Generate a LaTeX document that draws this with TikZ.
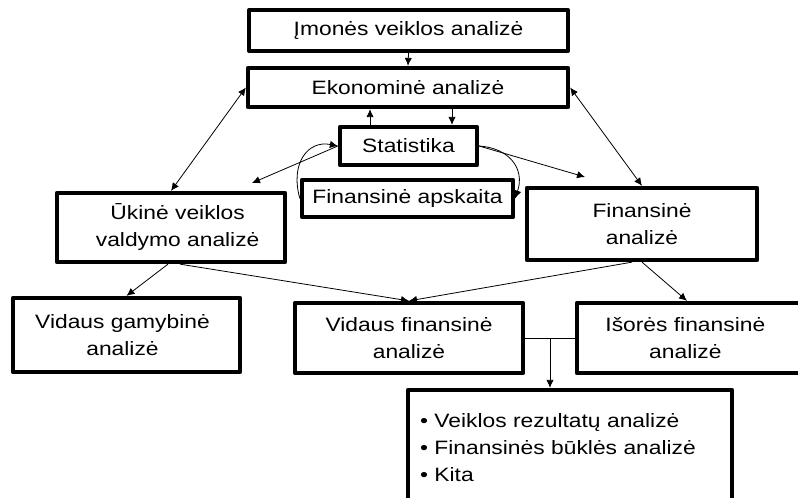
\documentclass[tikz,border=0pt]{standalone}
\usepackage{fontspec}
\setmainfont{Liberation Sans}[FakeStretch=1.18]
\usetikzlibrary{arrows.meta,calc}
\tikzset{
  box/.style={draw, line width=3.2pt, line join=round, font=\fontsize{14.5}{20.25}\selectfont, align=center, inner sep=0.75pt},
  conn/.style={line width=0.6pt, -{Latex[length=6pt,width=5.5pt]}},
  biconn/.style={line width=0.6pt, {Latex[length=6pt,width=5.5pt]}-{Latex[length=6pt,width=5.5pt]}},
}
\begin{document}
\begin{tikzpicture}[x=0.75pt,y=0.75pt,yscale=-1,xscale=1]
\useasboundingbox (0,0) rectangle (798,497);

% Boxes
\node[box, minimum width=239pt, minimum height=30.75pt] (imon) at (408.5,30.5) {Įmonės veiklos analizė};
\node[box, minimum width=240pt, minimum height=29.25pt] (ekon) at (408,87.5) {Ekonominė analizė};
\node[box, minimum width=102.75pt, minimum height=28.5pt] (stat) at (408.5,146) {Statistika};
\node[box, minimum width=158.25pt, minimum height=27.75pt] (apsk) at (407.5,198.5) {Finansinė apskaita};
\node[box, minimum width=171pt, minimum height=51.75pt] (ukin) at (171,227.5) {\hspace*{10pt}Ūkinė veiklos\\\hspace*{10pt}valdymo analizė};
\node[box, minimum width=172.5pt, minimum height=54pt] (fina) at (642,224) {Finansinė\\analizė};
\node[box, minimum width=170.25pt, minimum height=55.5pt] (vgam) at (126.5,335) {Vidaus gamybinė\hspace*{6pt}\\analizė\hspace*{6pt}};
\node[box, minimum width=171pt, minimum height=52.5pt] (vfin) at (409,338) {Vidaus finansinė\\analizė};
\node[box, minimum width=172.5pt, minimum height=52.5pt] (isor) at (692,338) {Išorės finansinė\hspace*{10pt}\\analizė\hspace*{10pt}};
\node[box, minimum height=87pt, text width=225pt, inner xsep=9pt, align=left] (rez) at (570,448)
  {\textbullet~Veiklos rezultatų analizė\\\textbullet~Finansinės būklės analizė\\\textbullet~Kita};

% free ends
\coordinate (ukinEnd) at (252,183);
\coordinate (finaEnd) at (585,177);
\coordinate (mid) at ($(vfin.east)!0.5!(isor.west)$);

% Straight Lines
\draw[conn] (imon.south) -- (ekon.north);
\draw[conn] (stat.north -| 370,0) -- (ekon.south -| 370,0);
\draw[conn] (ekon.south -| 452,0) -- (stat.north -| 452,0);
\draw[biconn] (ekon.west) -- (ukin.north);
\draw[biconn] (ekon.east) -- (fina.north);
\draw[conn] (stat.west) -- (ukinEnd);
\draw[conn] (stat.east) -- (finaEnd);

% Curves
\draw[conn] (apsk.west) .. controls +(-10,-35) and +(-30,-6) .. (stat.west);
\draw[conn] (stat.east) .. controls +(30,2) and +(10,-30) .. (apsk.east);

% Straight Lines
\draw[conn] (ukin.south -| 168,0) -- (vgam.north);
\draw[conn] (ukin.south -| 180,0) -- (vfin.north);
\draw[conn] (fina.south -| 632,0) -- (vfin.north);
\draw[conn] (fina.south -| 642,0) -- (isor.north -| 687,0);
\draw[line width=0.6pt] (vfin.east) -- (isor.west);
\draw[conn] (mid) -- (mid |- rez.north);

\end{tikzpicture}
\end{document}
